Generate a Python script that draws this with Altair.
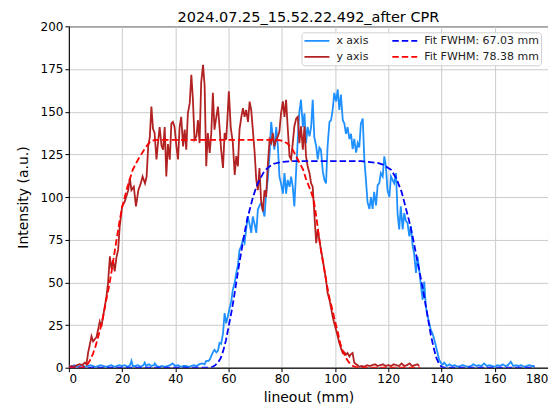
import altair as alt
import pandas as pd

# ---- x axis lineout (measured) ----
x_mm = [0, 1, 2, 3, 4, 5, 6, 7, 8, 9, 10, 11, 12, 13, 14, 15, 16, 17, 18, 19, 20, 21, 22, 23, 23.5, 24, 25, 26, 27, 28, 28.5, 29, 30, 31, 32, 32.3, 33, 34, 35, 36, 37, 38, 39, 40, 41, 42, 43, 44, 45, 46, 47, 48, 49, 50, 51, 51.6, 52.5, 53, 54.1, 54.7, 55.4, 56, 56.6, 57.2, 57.9, 58.5, 59.1, 59.7, 60.4, 61, 61.6, 62.3, 62.9, 63.5, 64.1, 64.7, 65.4, 66, 66.6, 67.2, 67.9, 68.5, 69.1, 69.8, 70.4, 71, 71.6, 72.2, 72.9, 73.5, 74.1, 74.7, 75.4, 76, 76.6, 77.2, 77.9, 78.5, 79.1, 79.7, 80.4, 81, 81.6, 82.2, 82.9, 83.5, 84.1, 84.7, 85.4, 86, 86.6, 87.2, 87.9, 88.5, 89.1, 89.7, 90.4, 91, 91.6, 92.2, 92.9, 93.5, 94.1, 94.7, 95.4, 96, 96.6, 97.2, 97.9, 98.5, 99.1, 99.7, 100.4, 101, 101.6, 102.2, 102.9, 103.5, 104.1, 104.7, 105.4, 106, 106.6, 107.2, 107.9, 108.5, 109.1, 109.7, 110.4, 111, 111.6, 112.2, 112.9, 113.5, 114.1, 114.7, 115.4, 116, 116.6, 117.2, 117.9, 118.5, 119.1, 119.7, 120.4, 121, 121.6, 122.2, 122.9, 123.5, 124.1, 124.7, 125.4, 126, 126.6, 127.2, 127.9, 128.5, 129.1, 129.7, 130.4, 131, 131.6, 132.3, 132.9, 133.5, 134.1, 134.8, 135.4, 136, 136.6, 137.3, 137.9, 138.5, 139.1, 139.8, 140.4, 141, 142, 143, 144, 145, 146, 147, 148, 149, 150, 151, 152, 153, 154, 155, 156, 157, 158, 159, 160, 161, 162, 163, 164, 165, 166, 167, 168, 169, 170, 171, 172, 173, 174, 175]
x_val = [1, 0.5, 1.5, 0.5, 1, 1.5, 0.5, 1, 1.5, 1, 0.5, 1, 1.5, 1, 0.5, 1, 1.5, 0.5, 1, 1.5, 1, 1.5, 0.5, 1.5, 4, 1, 1, 1.5, 0.5, 1.5, 3, 1, 2, 1, 1.5, 2.5, 1, 0.5, 1, 0.5, 1, 1.5, 2.5, 1, 1.5, 0.5, 1, 1, 0.5, 1, 1.5, 1, 2, 2.5, 2, 4, 4, 5, 9, 10.5, 9, 10, 14.5, 14, 20, 32, 26, 30, 35, 39, 45.7, 50, 55.5, 60, 69, 71, 75, 73, 81, 88.6, 84, 79, 88.6, 84, 79, 92.6, 95, 96.5, 92, 88.6, 102, 110, 125, 144, 135.5, 127.7, 141, 130, 112, 108, 102, 114, 102, 110, 106, 112, 106, 94.5, 116, 133.6, 150, 157, 141, 149, 131.6, 141, 135.5, 141, 157, 135, 130, 122, 129, 127.7, 115, 110, 108, 130, 144, 145, 151, 161, 156, 163, 151, 160, 145, 143, 137, 141, 134, 137, 128, 134, 126, 131.6, 129, 143, 146, 122, 110, 97, 93, 100, 93, 103, 95, 107, 108, 114, 112, 123.8, 118, 104, 100, 112, 110, 108, 114, 90, 81, 94.5, 81, 90.6, 86, 85, 77, 83, 72, 67, 55.5, 65, 57.5, 47.7, 39.8, 50.4, 36, 30, 26, 22, 20, 16.4, 12.5, 8.6, 4.7, 2.8, 1.8, 3, 1, 2, 1, 1.5, 0.5, 1, 1.5, 1, 0.5, 1, 2, 1, 1.5, 1, 2.5, 1, 1.5, 1, 0.5, 1.5, 1, 2, 1, 1.5, 3.5, 1, 1.5, 1, 1.5, 0.5, 1, 1.5, 1, 1]

# ---- y axis lineout (measured) ----
y_mm = [0, 1, 2, 3, 4, 5, 6, 6.6, 7.2, 8.5, 9.1, 10.4, 11.6, 12.2, 13.5, 14.1, 14.7, 15.4, 16, 16.6, 17.2, 17.9, 18.5, 19.1, 20, 21, 22.3, 22.9, 23.5, 24.4, 25.2, 26.1, 27, 27.7, 28.6, 29.2, 29.8, 30.4, 31, 31.6, 32.2, 32.9, 33.5, 34.1, 34.8, 35.4, 36, 36.6, 37.2, 37.9, 38.5, 39.1, 39.7, 40.4, 41, 41.6, 42.2, 42.9, 43.5, 44.1, 44.7, 45.4, 46, 46.6, 47.2, 47.9, 48.5, 49.1, 49.7, 50.4, 51, 51.6, 52.2, 52.9, 53.5, 54.1, 54.7, 55.4, 56, 56.6, 57.2, 57.9, 58.5, 59.1, 59.7, 60.1, 60.8, 61.6, 62.3, 62.9, 63.5, 64.1, 64.8, 65.4, 66, 66.6, 67.3, 67.9, 68.5, 69.1, 69.8, 70.4, 71, 71.6, 72.2, 72.9, 73.5, 74.1, 74.7, 75.4, 76, 76.6, 77.2, 77.9, 78.5, 79.1, 79.7, 80.4, 81, 81.6, 82.2, 82.9, 83.5, 84.1, 84.7, 85.4, 86, 86.6, 87.2, 87.9, 88.5, 89.1, 89.7, 90.4, 91, 91.6, 92.2, 92.9, 93.5, 94.1, 94.7, 95.4, 96, 96.6, 97.2, 97.9, 98.5, 99.1, 99.7, 100.4, 101, 101.6, 102.3, 102.9, 103.5, 104.1, 104.7, 105.4, 106, 106.6, 107.2, 107.9, 108.5, 109, 110, 111, 112, 113, 114, 115, 116, 117, 118, 119, 120, 121, 122, 123, 124, 125, 126, 127, 128, 129, 130, 131, 131.6]
y_val = [0.5, 1, 0.5, 1.5, 2, 1.5, 3, 2, 8.6, 18.4, 15.4, 18, 27, 24, 36, 41.6, 49.4, 65.2, 58, 63, 56.4, 65, 69, 82.8, 94.5, 97.4, 104, 111, 104, 106, 94.5, 104, 108, 112, 108, 112, 129.7, 135, 153, 140, 137.5, 122, 132, 141, 130, 127.7, 141, 112, 131, 121.9, 143, 144, 141, 129.7, 122, 141, 147, 129.7, 139.5, 127.7, 149, 155, 171.6, 157, 133.6, 135.5, 145, 131.6, 167, 177.5, 165, 118, 137.5, 125.8, 137.5, 161, 139.5, 147, 153, 141, 127.7, 117, 137.5, 133.6, 150, 162, 141, 131.6, 113, 124, 118, 139.5, 147, 152, 147, 151, 144, 155.9, 151, 139.5, 125.8, 110, 104, 117, 98, 91.6, 104, 100, 118, 133.6, 131.6, 137.5, 129.7, 133.6, 135.5, 138.4, 149, 156, 147, 157, 141, 123.8, 122, 131.6, 141.4, 146, 147, 131.6, 141.4, 127.7, 141.4, 123.8, 118, 114, 108, 106, 90.6, 73, 81, 75, 69, 63, 57.4, 51.5, 43.7, 39.8, 35, 30, 26, 22, 18.4, 14.5, 11, 8.6, 9, 7.6, 8.6, 6.6, 8, 8.6, 3, 2, 1.5, 0.5, 1, 0.5, 1.5, 1, 1.5, 2, 1, 1.5, 2, 1, 1.5, 1, 2, 1.5, 1, 2.5, 1, 1.5, 2.5, 1, 1.5, 2, 1]

# ---- fitted curves ----
fx_mm = [0, 52, 54, 55, 56, 57, 58, 59, 60, 61, 62, 63, 64, 65, 66, 67, 68, 69, 70, 71, 72, 73, 74, 75, 77, 80, 84, 110, 116, 118, 120, 121, 122, 123, 124, 125, 126, 127, 128, 129, 130, 131, 132, 133, 134, 135, 136, 137, 138, 139, 140, 141, 175]
fx_val = [0, 0, 0.5, 1.5, 3, 5.5, 10, 16, 24, 32, 41, 51, 61, 70, 79, 87, 93, 99, 104, 108, 111, 114, 116, 117.5, 119.5, 120.5, 121, 121, 120, 119, 117, 116, 113.5, 111, 107, 103, 97, 91, 85, 78, 70, 62, 54, 46, 37, 28, 19, 12, 6, 2.5, 0.5, 0, 0]
fy_mm = [0, 4, 5, 6, 7, 8, 9, 10, 11, 12, 13, 14, 15, 16, 17, 18, 19, 20, 21, 22, 23, 24, 25, 26, 27, 28, 29, 30, 31, 33, 78, 80, 82, 84, 86, 88, 89, 90, 91, 92, 93, 94, 95, 96, 97, 98, 99, 100, 101, 102, 103, 104, 105, 106, 107, 108, 110, 132]
fy_val = [0, 0, 0.2, 0.6, 2, 4.5, 8, 12.5, 18, 24, 31, 39.5, 47, 56, 66, 76, 85.5, 94, 100, 106, 111, 116, 119, 122, 124.5, 127, 129.5, 131.5, 133, 133.5, 133.5, 133, 131.5, 128, 122, 116, 111, 107, 103, 98, 88, 76, 66, 57, 48, 40, 34, 27, 21, 14, 9.5, 6, 3.5, 1.8, 0.8, 0.3, 0, 0]

labels = ["x axis", "y axis", "Fit FWHM: 67.03 mm", "Fit FWHM: 78.38 mm"]
colors = ["#1E90FF", "#B22222", "#0000FF", "#FF0000"]
dashes = [[1, 0], [1, 0], [6.5, 3], [6.5, 3]]

frames = []
for name, xs, ys in [("x axis", x_mm, x_val), ("y axis", y_mm, y_val),
                     ("Fit FWHM: 67.03 mm", fx_mm, fx_val),
                     ("Fit FWHM: 78.38 mm", fy_mm, fy_val)]:
    frames.append(pd.DataFrame({"series": name, "mm": xs, "val": ys}))
df = pd.concat(frames, ignore_index=True)

color_scale = alt.Scale(domain=labels, range=colors)
dash_scale = alt.Scale(domain=labels, range=dashes)

legend = alt.Legend(
    title=None, orient="none", legendX=233, legendY=6, columns=2,
    symbolType="stroke", symbolSize=625, symbolStrokeWidth=1.8,
    labelFont="DejaVu Sans", labelFontSize=11, labelColor="#222222",
    labelOffset=6, columnPadding=22, rowPadding=3, clipHeight=13,
    padding=2, strokeColor="#d0d0d0", fillColor="rgba(255,255,255,0.85)",
    cornerRadius=3,
)

xenc = alt.X("mm:Q", scale=alt.Scale(domain=[0, 180], nice=False),
             axis=alt.Axis(title="lineout (mm)", values=list(range(0, 181, 20))))
yenc = alt.Y("val:Q", scale=alt.Scale(domain=[0, 200], nice=False),
             axis=alt.Axis(title="Intensity (a.u.)", values=list(range(0, 201, 25))))


def layer(name):
    return alt.Chart(df).transform_filter(alt.datum.series == name).mark_line(
        strokeWidth=1.8, clip=True
    ).encode(
        x=xenc, y=yenc,
        color=alt.Color("series:N", scale=color_scale, legend=legend),
        strokeDash=alt.StrokeDash("series:N", scale=dash_scale, legend=legend),
    )


chart = alt.layer(
    layer("x axis"), layer("y axis"),
    layer("Fit FWHM: 67.03 mm"), layer("Fit FWHM: 78.38 mm"),
).properties(
    width=480, height=342,
    title=alt.TitleParams("2024.07.25_15.52.22.492_after CPR", font="DejaVu Sans",
                          fontSize=14.5, fontWeight="normal", color="black",
                          anchor="middle", frame="group", offset=-5),
    autosize=alt.AutoSizeParams(type="none"),
    padding={"left": 61, "top": 18, "right": 0, "bottom": 40},
).configure_view(
    stroke="black", strokeWidth=1
).configure_axis(
    labelFont="DejaVu Sans", labelFontSize=12, labelColor="black",
    titleFont="DejaVu Sans", titleFontSize=14, titleFontWeight="normal", titleColor="black",
    domainColor="black", domainWidth=1, tickColor="black", tickSize=4, tickWidth=1,
    gridColor="#cccccc", gridWidth=1, labelPadding=2,
).configure_axisX(titlePadding=6).configure_axisY(titlePadding=10)

chart.save("out.html", embed_options={"renderer": "svg", "actions": False})
